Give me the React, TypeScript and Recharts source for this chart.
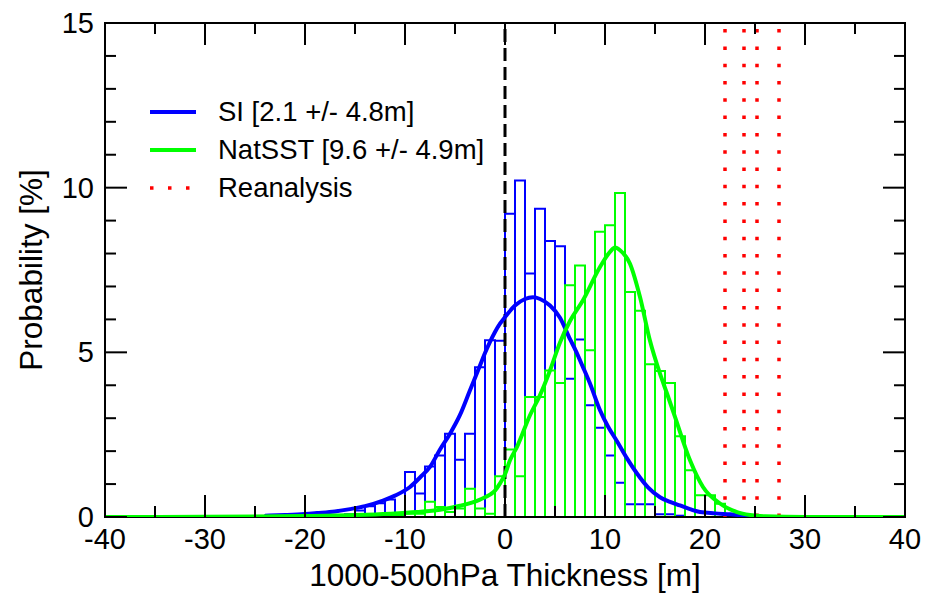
import {
  ComposedChart,
  Line,
  XAxis,
  YAxis,
  ReferenceArea,
  ReferenceLine,
  Legend,
} from "recharts";

const FONT = "'Liberation Sans', Arial, sans-serif";
const W = 937;
const H = 593;
const PLOT_LEFT = 105;
const PLOT_RIGHT = 905;
const PLOT_TOP = 23;
const PLOT_BOTTOM = 517;

const X_TICKS = [-40, -35, -30, -25, -20, -15, -10, -5, 0, 5, 10, 15, 20, 25, 30, 35, 40];
const Y_TICKS = [0, 1, 2, 3, 4, 5, 6, 7, 8, 9, 10, 11, 12, 13, 14, 15];

// histogram bins, 1 m wide, given by left edge
const SI_BIN = [
  -24, -23, -22, -21, -20, -19, -18, -17, -16, -15, -14, -13, -12, -11, -10, -9, -8, -7, -6, -5, -4,
  -3, -2, -1, 0, 1, 2, 3, 4, 5, 6, 7, 8, 9, 10, 11, 12, 13, 14, 15, 16, 17,
];
const SI_PCT = [
  0.05, 0.05, 0.05, 0.05, 0.05, 0.05, 0.05, 0.05, 0.08, 0.2, 0.33, 0.42, 0.53, 0.05, 1.37, 0.71, 1.53,
  1.87, 2.53, 1.74, 2.53, 4.55, 5.37, 5.35, 9.21, 10.22, 7.39, 9.36, 8.38, 8.22, 4.2, 5.39, 3.39, 2.71,
  1.87, 1.04, 0.39, 0.39, 0.39, 0.08, 0.08, 0.04,
];

const NAT_BIN = [
  -12, -11, -10, -9, -8, -7, -6, -5, -4, -3, -2, -1, 0, 1, 2, 3, 4, 5, 6, 7, 8, 9, 10, 11, 12, 13, 14,
  15, 16, 17, 18, 19, 20, 21,
];
const NAT_PCT = [
  0.04, 0.04, 0.1, 0.1, 0.46, 0.3, 0.15, 0.26, 0.86, 0.26, 0.1, 1.24, 2.05, 1.24, 3.64, 3.64, 4.45, 4.07,
  7.04, 7.64, 5.06, 8.66, 8.86, 9.84, 6.83, 6.26, 4.64, 4.43, 4.07, 2.45, 1.42, 0.66, 0.66, 0.4,
];

// fitted curves
const SI_FIT_X = [
  -24, -22, -20, -18.8, -17, -15.5, -14, -12.2, -11, -9.5, -8.5, -7.5, -6.5, -5.5, -4.5, -3.5, -2.5,
  -2, -1.5, -1, -0.5, 0, 1, 2, 2.8, 3.5, 4.5, 5.5, 6.5, 7, 7.8, 8.5, 9.5, 10.3, 11.2, 12.2, 13.2, 14.3,
  15.5, 16.5, 17.5, 18.5, 19.5, 21, 22.5, 24.5,
];
const SI_FIT_Y = [
  0.04, 0.06, 0.09, 0.12, 0.17, 0.24, 0.33, 0.5, 0.65, 0.91, 1.2, 1.52, 2.05, 2.53, 3.1, 3.85, 4.6,
  4.98, 5.32, 5.62, 5.87, 6.07, 6.42, 6.62, 6.67, 6.62, 6.42, 6.05, 5.4, 5.1, 4.55, 4.05, 3.24, 2.75,
  2.3, 1.78, 1.32, 0.9, 0.6, 0.46, 0.35, 0.24, 0.15, 0.11, 0.08, 0.03,
];

const NAT_FIT_X = [
  -40, -30, -20, -15, -11.5, -8.8, -6.5, -4.5, -2.5, -1.5, -1, -0.5, 0, 0.5, 1.2, 2.5, 3.5, 4.5, 5.5, 6.5,
  7.8, 9.5, 10.5, 11, 11.5, 12.5, 13.5, 14.5, 15.5, 16.2, 17, 18.5, 19.8, 21.5, 23.2, 24.5, 26, 30, 40,
];
const NAT_FIT_Y = [
  0, 0.005, 0.03, 0.06, 0.1, 0.15, 0.22, 0.34, 0.53, 0.68, 0.8, 1.02, 1.3, 1.72, 2.13, 3.09, 3.7, 4.45,
  5.3, 5.95, 6.58, 7.59, 8.05, 8.18, 8.1, 7.69, 6.68, 5.35, 4.35, 3.75, 3.04, 1.72, 0.91, 0.41, 0.15,
  0.06, 0.02, 0, 0,
];

const REANALYSIS_X = [22.0, 23.9, 25.2, 27.4];

const BLUE = "#0000ff";
const GREEN = "#00ff00";
const RED = "#ff0000";

const LEGEND_ITEMS = [
  { label: "SI [2.1 +/- 4.8m]", color: BLUE, dash: undefined as string | undefined, width: 4 },
  { label: "NatSST [9.6 +/- 4.9m]", color: GREEN, dash: undefined as string | undefined, width: 4 },
  { label: "Reanalysis", color: RED, dash: "3.5 14.5", width: 3.5 },
];

const siFit = SI_FIT_X.map((x, i) => ({ x, y: SI_FIT_Y[i] }));
const natFit = NAT_FIT_X.map((x, i) => ({ x, y: NAT_FIT_Y[i] }));

const XTick = (props: any) => {
  const { x, payload } = props;
  const v = payload.value;
  const major = v % 10 === 0;
  const len = major ? 22 : 11;
  return (
    <g>
      <line x1={x} x2={x} y1={PLOT_BOTTOM} y2={PLOT_BOTTOM - len} stroke="#000" strokeWidth={2} />
      <line x1={x} x2={x} y1={PLOT_TOP} y2={PLOT_TOP + len} stroke="#000" strokeWidth={2} />
      {major && (
        <text x={x} y={PLOT_BOTTOM + 32} textAnchor="middle" fontSize={29} fontFamily={FONT} fill="#000">
          {v}
        </text>
      )}
    </g>
  );
};

const YTick = (props: any) => {
  const { y, payload } = props;
  const v = payload.value;
  const major = v % 5 === 0;
  const len = major ? 22 : 11;
  return (
    <g>
      <line x1={PLOT_LEFT} x2={PLOT_LEFT + len} y1={y} y2={y} stroke="#000" strokeWidth={2} />
      <line x1={PLOT_RIGHT} x2={PLOT_RIGHT - len} y1={y} y2={y} stroke="#000" strokeWidth={2} />
      {major && (
        <text x={PLOT_LEFT - 11} y={y + 10} textAnchor="end" fontSize={29} fontFamily={FONT} fill="#000">
          {v}
        </text>
      )}
    </g>
  );
};

const LegendBox = () => (
  <div style={{ fontFamily: FONT, fontSize: 27.5, color: "#000" }}>
    {LEGEND_ITEMS.map((item) => (
      <div key={item.label} style={{ display: "flex", alignItems: "center", height: 38 }}>
        <svg width={46} height={8}>
          <line
            x1={0}
            x2={46}
            y1={4}
            y2={4}
            stroke={item.color}
            strokeWidth={item.width}
            strokeDasharray={item.dash}
          />
        </svg>
        <span style={{ marginLeft: 22, whiteSpace: "nowrap" }}>{item.label}</span>
      </div>
    ))}
  </div>
);

export default function App() {
  return (
    <div style={{ width: W, height: H, background: "#fff" }}>
      <style>{"body{margin:0}"}</style>
      <ComposedChart
        width={W}
        height={H}
        margin={{ top: PLOT_TOP, right: W - PLOT_RIGHT, left: 0, bottom: 0 }}
      >
        <XAxis
          dataKey="x"
          type="number"
          domain={[-40, 40]}
          ticks={X_TICKS}
          interval={0}
          allowDataOverflow
          height={H - PLOT_BOTTOM}
          axisLine={false}
          tickLine={false}
          tick={<XTick />}
          label={{
            value: "1000-500hPa Thickness [m]",
            position: "insideBottom",
            offset: 7,
            fontSize: 31.5,
            fontFamily: FONT,
            fill: "#000",
          }}
        />
        <YAxis
          type="number"
          domain={[0, 15]}
          ticks={Y_TICKS}
          interval={0}
          allowDataOverflow
          width={PLOT_LEFT}
          axisLine={false}
          tickLine={false}
          tick={<YTick />}
          label={{
            value: "Probability [%]",
            angle: -90,
            position: "insideLeft",
            offset: 31,
            fontSize: 31.5,
            fontFamily: FONT,
            fill: "#000",
            style: { textAnchor: "middle" },
          }}
        />
        {SI_BIN.map((b, i) => (
          <ReferenceArea
            key={`si-${b}`}
            x1={b}
            x2={b + 1}
            y1={0}
            y2={SI_PCT[i]}
            fill="none"
            fillOpacity={0}
            stroke={BLUE}
            strokeWidth={2}
          />
        ))}
        {NAT_BIN.map((b, i) => (
          <ReferenceArea
            key={`nat-${b}`}
            x1={b}
            x2={b + 1}
            y1={0}
            y2={NAT_PCT[i]}
            fill="none"
            fillOpacity={0}
            stroke={GREEN}
            strokeWidth={2}
          />
        ))}
        <ReferenceLine x={0} stroke="#000" strokeWidth={3} strokeDasharray="13 6" />
        {REANALYSIS_X.map((x) => (
          <ReferenceLine key={`re-${x}`} x={x} stroke={RED} strokeWidth={3.5} strokeDasharray="3.5 13.8" />
        ))}
        <Line
          data={siFit}
          dataKey="y"
          type="monotone"
          stroke={BLUE}
          strokeWidth={4}
          dot={false}
          activeDot={false}
          isAnimationActive={false}
        />
        <Line
          data={natFit}
          dataKey="y"
          type="monotone"
          stroke={GREEN}
          strokeWidth={4}
          dot={false}
          activeDot={false}
          isAnimationActive={false}
        />
        <ReferenceArea x1={-40} x2={40} y1={0} y2={15} fill="none" fillOpacity={0} stroke="#000" strokeWidth={2} />
        <Legend
          layout="vertical"
          align="center"
          verticalAlign="middle"
          wrapperStyle={{ left: 150, top: 93, width: "auto" }}
          content={() => <LegendBox />}
        />
      </ComposedChart>
    </div>
  );
}
